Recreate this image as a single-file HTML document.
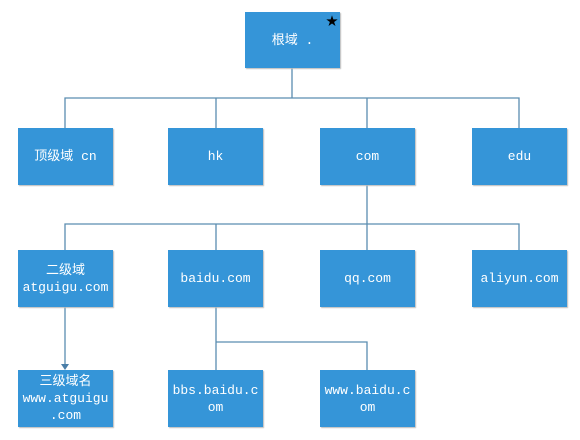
<!DOCTYPE html>
<html><head><meta charset="utf-8"><style>
body{margin:0;width:580px;height:440px;background:#fff;position:relative;overflow:hidden;font-family:"Liberation Mono","Noto Sans CJK SC",monospace;}
.b{position:absolute;width:95px;height:57px;background:#3595d8;color:#fff;font-size:13px;display:flex;align-items:center;justify-content:center;text-align:center;line-height:17px;word-break:break-all;box-shadow:1px 1px 1px #bbb;}
svg{position:absolute;left:0;top:0}
</style></head><body>
<svg width="580" height="440"><g stroke="#5b8db0" stroke-width="1.3" fill="none">
<path d="M292 68V98M65 128V98H519V128M216 98V128M367 98V128"/>
<path d="M367 185V224M65 250V224H519V250M216 224V250M367 224V250"/>
<path d="M65 307V365"/>
<path d="M216 307V370M216 342H367V370"/>
</g><path d="M61 364H69L65 370Z" fill="#4a7ea8"/></svg>
<div class="b" style="left:245px;top:12px;height:56px">根域 .</div>
<div style="position:absolute;left:326px;top:12px;font-size:12px;color:#000">★</div>
<div class="b" style="left:18px;top:128px">顶级域 cn</div>
<div class="b" style="left:168px;top:128px">hk</div>
<div class="b" style="left:320px;top:128px">com</div>
<div class="b" style="left:472px;top:128px">edu</div>
<div class="b" style="left:18px;top:250px">二级域<br>atguigu.com</div>
<div class="b" style="left:168px;top:250px">baidu.com</div>
<div class="b" style="left:320px;top:250px">qq.com</div>
<div class="b" style="left:472px;top:250px">aliyun.com</div>
<div class="b" style="left:18px;top:370px">三级域名<br>www.atguigu<br>.com</div>
<div class="b" style="left:168px;top:370px">bbs.baidu.c<br>om</div>
<div class="b" style="left:320px;top:370px">www.baidu.c<br>om</div>
</body></html>
